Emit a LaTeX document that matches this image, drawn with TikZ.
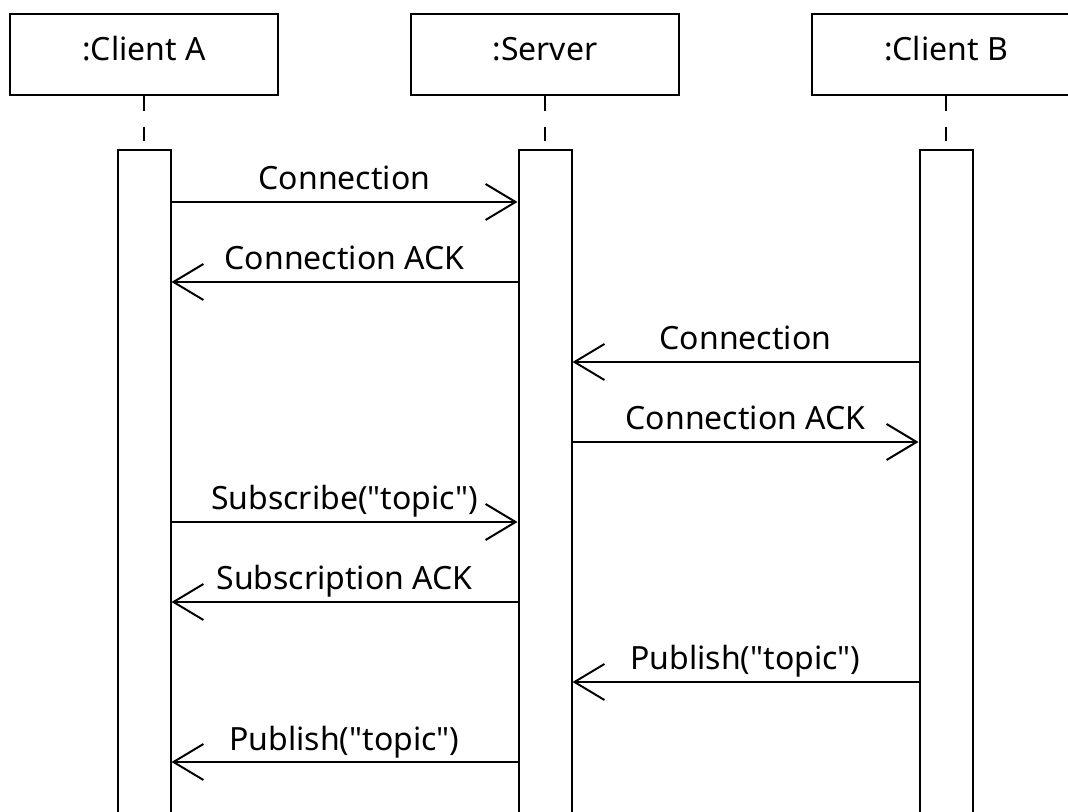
\documentclass[tikz,border=0pt]{standalone}
\usepackage{fontspec}
\setmainfont{Noto Sans}
\usetikzlibrary{arrows.meta,positioning}

\tikzset{
  hdrbox/.style={draw,line width=1.5pt,minimum width=201pt,minimum height=60.75pt,inner sep=0pt,text depth=9pt},
  actbox/.style={draw,fill=white,line width=1.5pt,minimum width=39.75pt,minimum height=525pt,inner sep=0pt,anchor=north},
  lifeline/.style={line width=1.5pt,dash pattern=on 11pt off 12pt},
  msg/.style={line width=1.5pt,-{Straight Barb[length=22.5pt,width=27pt,line width=1.5pt]}}
}

\begin{document}
\begin{tikzpicture}[x=0.75pt,y=-0.75pt,every node/.style={font=\fontsize{24}{28}\selectfont}]
  \useasboundingbox (0,0) rectangle (1068,812);
  \begin{scope}
  \clip (0,0) rectangle (1068,812);
  % participants
  \node[hdrbox] (hdrA) at (144,54.5) {:Client A};
  \node[hdrbox] (hdrS) at (545,54.5) {:Server};
  \node[hdrbox] (hdrB) at (946,54.5) {:Client B};
  \foreach \p in {A,S,B} {
    \node[actbox,below=39.75pt of hdr\p] (act\p) {};
    \draw[lifeline] (hdr\p.south) -- (act\p.north);
  }
  % messages
  \foreach \y/\from/\to/\txt in {202/actA.east/actS.west/Connection,
      282/actS.west/actA.east/Connection ACK,
      362/actB.west/actS.east/Connection,
      442/actS.east/actB.west/Connection ACK,
      522/actA.east/actS.west/Subscribe(\textquotedbl topic\textquotedbl),
      602/actS.west/actA.east/Subscription ACK,
      682/actB.west/actS.east/Publish(\textquotedbl topic\textquotedbl),
      762/actS.west/actA.east/Publish(\textquotedbl topic\textquotedbl)}
    \draw[msg] (\from |- 0,\y) -- node[anchor=base,yshift=9pt] {\txt} (\to |- 0,\y);
  \end{scope}
\end{tikzpicture}
\end{document}
